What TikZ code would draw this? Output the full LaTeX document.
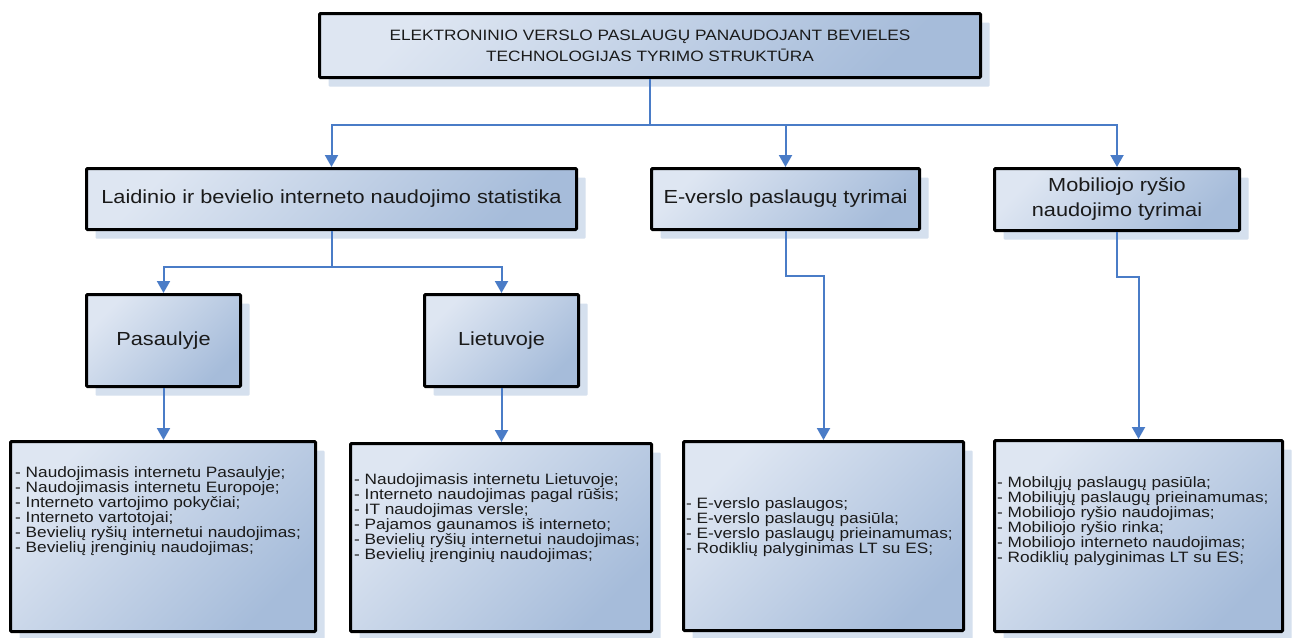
\documentclass[tikz,border=0pt]{standalone}
\usepackage{fontspec}
\setmainfont[FakeStretch=1.15]{Liberation Sans}
\usetikzlibrary{arrows.meta,shadows,calc}
\definecolor{boxlight}{HTML}{DEE6F2}
\definecolor{boxdark}{HTML}{A6BCDA}
\definecolor{shadowblue}{HTML}{D5E0EE}
\definecolor{linkblue}{HTML}{4A7CC7}
\definecolor{inkgray}{HTML}{1A1A1A}
\begin{document}
\begin{tikzpicture}[x=1pt,y=-1pt,
  panel/.style={draw=black, line width=3pt, rounded corners=1pt,
    top color=boxlight, bottom color=boxdark, shading angle=45,
    drop shadow={shadow xshift=9pt, shadow yshift=-9pt, fill=shadowblue, opacity=1, draw=none},
    inner sep=0pt, text=inkgray, align=center},
  titlebox/.style={panel, font=\fontsize{15}{21}\selectfont},
  headbox/.style={panel, font=\fontsize{18.9}{25}\selectfont},
  listbox/.style={panel},
  listtext/.style={anchor=west, align=left, inner sep=0pt, text=inkgray,
    font=\fontsize{15}{15}\selectfont},
  conn/.style={draw=linkblue, line width=2pt},
  arr/.style={conn, -{Triangle[width=13pt,length=12pt]}}]
\useasboundingbox (0,0) rectangle (1298,637);
\fill[white] (0,0) rectangle (1298,637);

% title
\node[titlebox, minimum width=661, minimum height=64] (top) at (650,45.5)
  {ELEKTRONINIO VERSLO PASLAUGŲ PANAUDOJANT BEVIELES\\TECHNOLOGIJAS TYRIMO STRUKTŪRA};

% second level
\node[headbox, minimum width=490, minimum height=61] (laid) at (331.5,199)
  {Laidinio ir bevielio interneto naudojimo statistika};
\node[headbox, minimum width=268, minimum height=61] (ever) at (785.5,199)
  {E-verslo paslaugų tyrimai};
\node[headbox, minimum width=245, minimum height=62] (mob) at (1117,199.5)
  {Mobiliojo ryšio\\naudojimo tyrimai};

% third level
\node[headbox, minimum width=154, minimum height=92] (pas) at (163.5,340.5) {Pasaulyje};
\node[headbox, minimum width=154, minimum height=92] (liet) at (501.5,340.5) {Lietuvoje};

% detail boxes
\node[listbox, minimum width=305, minimum height=190] (b1) at (163,536.5) {};
\node[listbox, minimum width=301, minimum height=188] (b2) at (501,537.5) {};
\node[listbox, minimum width=280, minimum height=189] (b3) at (823.5,536) {};
\node[listbox, minimum width=288, minimum height=191] (b4) at (1138.5,536) {};

\node[listtext] (t1) at ($(b1.west)+(6,-25.5)$)
  {- Naudojimasis internetu Pasaulyje;\\- Naudojimasis internetu Europoje;\\- Interneto vartojimo pokyčiai;\\- Interneto vartotojai;\\- Bevielių ryšių internetui naudojimas;\\- Bevielių įrenginių naudojimas;};
\node[listtext] (t2) at ($(b2.west)+(5,-19)$)
  {- Naudojimasis internetu Lietuvoje;\\- Interneto naudojimas pagal rūšis;\\- IT naudojimas versle;\\- Pajamos gaunamos iš interneto;\\- Bevielių ryšių internetui naudojimas;\\- Bevielių įrenginių naudojimas;};
\node[listtext] (t3) at ($(b3.west)+(4,-9)$)
  {- E-verslo paslaugos;\\- E-verslo paslaugų pasiūla;\\- E-verslo paslaugų prieinamumas;\\- Rodiklių palyginimas LT su ES;};
\node[listtext] (t4) at ($(b4.west)+(4,-15)$)
  {- Mobilųjų paslaugų pasiūla;\\- Mobiliųjų paslaugų prieinamumas;\\- Mobiliojo ryšio naudojimas;\\- Mobiliojo ryšio rinka;\\- Mobiliojo interneto naudojimas;\\- Rodiklių palyginimas LT su ES;};

% connectors
\coordinate (bus) at (0,125);
\coordinate (split) at (0,267);
\coordinate (jogA) at (0,276);
\coordinate (jogB) at (0,277);

\draw[arr] (top.south) -- (top.south |- bus) -| (laid.north);
\draw[arr] (top.south |- bus) -| (ever.north);
\draw[arr] (top.south |- bus) -| (mob.north);

\draw[arr] (laid.south) -- (laid.south |- split) -| (pas.north);
\draw[arr] (laid.south |- split) -| (liet.north);

\draw[arr] (pas.south) -- (pas.south |- b1.north);
\draw[arr] (liet.south) -- (liet.south |- b2.north);

\draw[arr] (ever.south) -- (ever.south |- jogA) -| (b3.north);
\draw[arr] (mob.south) -- (mob.south |- jogB) -| (b4.north);
\end{tikzpicture}
\end{document}
